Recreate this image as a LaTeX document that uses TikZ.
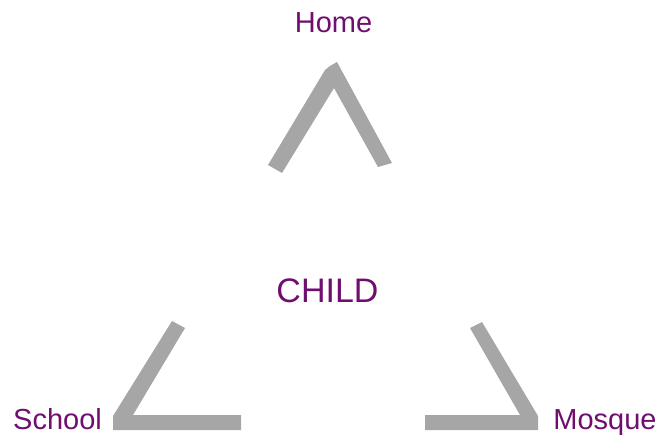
\documentclass[tikz,border=0pt]{standalone}
\usepackage{fontspec}
\setmainfont{Liberation Sans}
\definecolor{chevron}{RGB}{166,166,166}
\definecolor{labelpurple}{RGB}{112,14,112}
\begin{document}
\begin{tikzpicture}[x=1pt,y=-1pt,
  lbl/.style={text=labelpurple,inner sep=0pt,anchor=base,font=\fontsize{29}{29}\selectfont},
  big/.style={text=labelpurple,inner sep=0pt,anchor=base,font=\fontsize{34}{34}\selectfont},
  chev/.style={fill=chevron,draw=none}]
\useasboundingbox (0,0) rectangle (661,435);
% Home chevron
\fill[chev] (268,165) -- (325,70) -- (330,66) -- (337,62) -- (392,163) -- (378,167) -- (334,88) -- (282,173) -- cycle;
% School chevron
\fill[chev] (113,430) -- (241,430) -- (241,415) -- (133,415) -- (185,328) -- (172,321) -- (113,416) -- cycle;
% Mosque chevron
\fill[chev] (425,415) -- (520,415) -- (470,328) -- (482,322) -- (538,416) -- (538,430) -- (425,430) -- cycle;
\node[lbl] (home) at (333.5,33) {Home};
\node[lbl] (school) at (57.5,429) {School};
\node[lbl] (mosque) at (605,429) {Mosque};
\node[big] (child) at (327.5,303) {CHILD};
\end{tikzpicture}
\end{document}
